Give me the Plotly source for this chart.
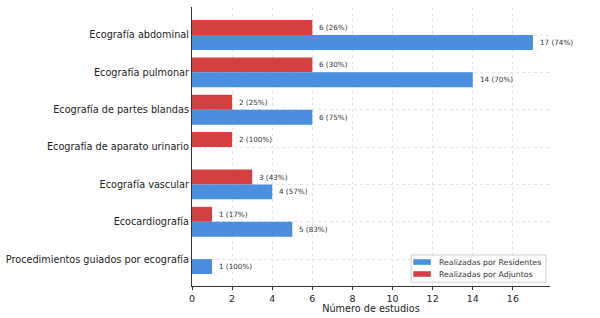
import plotly.graph_objects as go

categories = ["Ecografía abdominal", "Ecografía pulmonar", "Ecografía de partes blandas",
              "Ecografía de aparato urinario", "Ecografía vascular", "Ecocardiografía",
              "Procedimientos guiados por ecografía"]
residentes = [17, 14, 6, 0, 4, 5, 1]
adjuntos = [6, 6, 2, 2, 3, 1, 0]
res_labels = ["17 (74%)", "14 (70%)", "6 (75%)", "", "4 (57%)", "5 (83%)", "1 (100%)"]
adj_labels = ["6 (26%)", "6 (30%)", "2 (25%)", "2 (100%)", "3 (43%)", "1 (17%)", ""]
x_ticks = [0, 2, 4, 6, 8, 10, 12, 14, 16]
series_names = ["Realizadas por Residentes", "Realizadas por Adjuntos"]

RED = "#d63f3f"
BLUE = "#4a8ee0"

fig = go.Figure()
fig.add_trace(go.Bar(y=categories, x=adjuntos, orientation="h", name=series_names[1],
                     marker=dict(color=RED, line=dict(width=0)), showlegend=False))
fig.add_trace(go.Bar(y=categories, x=residentes, orientation="h", name=series_names[0],
                     marker=dict(color=BLUE, line=dict(width=0)), showlegend=False))

ann_font = dict(size=7.2, color="#333333", family="DejaVu Sans")
for cat, v, lab in zip(categories, adjuntos, adj_labels):
    if v > 0:
        fig.add_annotation(x=v, y=cat, text=lab, showarrow=False, xanchor="left", yanchor="middle",
                           xshift=5, yshift=7.4, font=ann_font)
for cat, v, lab in zip(categories, residentes, res_labels):
    if v > 0:
        fig.add_annotation(x=v, y=cat, text=lab, showarrow=False, xanchor="left", yanchor="middle",
                           xshift=5, yshift=-7.4, font=ann_font)

# legend box (drawn in paper coordinates, matplotlib-style lower-right legend)
fig.add_shape(type="rect", xref="paper", yref="paper", x0=0.612, x1=0.989, y0=0.014, y1=0.111,
              line=dict(color="#d0d0d0", width=1), fillcolor="rgba(255,255,255,0.9)", layer="above")
leg_items = [(series_names[0], BLUE, 0.076, 0.096), (series_names[1], RED, 0.033, 0.053)]
for name, col, y0, y1 in leg_items:
    fig.add_shape(type="rect", xref="paper", yref="paper", x0=0.618, x1=0.667, y0=y0, y1=y1,
                  line=dict(width=0), fillcolor=col, layer="above")
    fig.add_annotation(xref="paper", yref="paper", x=0.684, y=(y0 + y1) / 2, text=name,
                       showarrow=False, xanchor="left", yanchor="middle",
                       font=dict(size=7.8, color="#333333", family="DejaVu Sans"))

fig.update_layout(
    width=600, height=318,
    margin=dict(l=192, r=50, t=7, b=32),
    plot_bgcolor="white", paper_bgcolor="white",
    barmode="group", bargap=0.2, bargroupgap=0,
    font=dict(family="DejaVu Sans", color="#222222"),
    showlegend=False,
    xaxis=dict(range=[0, 17.85], tickvals=x_ticks, showgrid=True, automargin=False,
               gridcolor="#e4e4e4", griddash="dot", gridwidth=1, zeroline=False,
               showline=True, linecolor="#333333", linewidth=1.2, ticks="outside", ticklen=3,
               tickcolor="#333333", tickfont=dict(size=9.5, color="#222222"),
               title=dict(text="Número de estudios", font=dict(size=9.7, color="#222222"), standoff=2)),
    yaxis=dict(autorange=False, range=[6.72, -0.75], categoryorder="array", categoryarray=categories,
               automargin=False,
               showgrid=True, gridcolor="#e4e4e4", griddash="dot", gridwidth=1,
               showline=True, linecolor="#333333", linewidth=1.2, ticks="", ticklen=0,
               tickfont=dict(size=9.7, color="#222222")),
)

fig.write_html("out.html", post_script="document.body.style.margin='0';",
               config={"displayModeBar": False})
